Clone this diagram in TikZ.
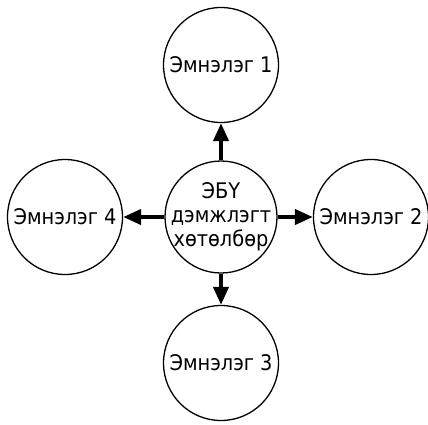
\documentclass[tikz,border=0pt]{standalone}
\usepackage{fontspec}
\setmainfont{DejaVu Sans Condensed}
\usetikzlibrary{arrows.meta}
% Ring nodes: the label sits in a zero-width box so it never widens the ring
\newcommand{\ringtext}[1]{\makebox[0pt]{#1}}
\tikzset{
  unit/.style={circle, draw, line width=1.3pt, minimum size=115pt, inner sep=0pt,
    font=\fontsize{21.5}{25}\selectfont},
  link/.style={line width=4pt, -{Triangle[length=18pt,width=15pt]}}
}
\begin{document}
\begin{tikzpicture}[x=1pt,y=-1pt]
  \useasboundingbox (0,0) rectangle (428,424);
  \node[unit, minimum size=112pt] (c) at (221,217)
    {\ringtext{\begin{tabular}{@{}c@{}}ЭБҮ\\[-1pt]дэмжлэгт\\[-1pt]хөтөлбөр\end{tabular}}};
  \node[unit] (t) at (221,65) {\ringtext{Эмнэлэг 1}};
  \node[unit] (r) at (371,217) {\ringtext{Эмнэлэг 2}};
  \node[unit] (b) at (221,363) {\ringtext{Эмнэлэг 3}};
  \node[unit] (l) at (65,217) {\ringtext{Эмнэлэг 4}};
  \draw[link] (c.north) -- (t.south);
  \draw[link] (c.east) -- (r.west);
  \draw[link] (c.south) -- (b.north);
  \draw[link] (c.west) -- (l.east);
\end{tikzpicture}
\end{document}
